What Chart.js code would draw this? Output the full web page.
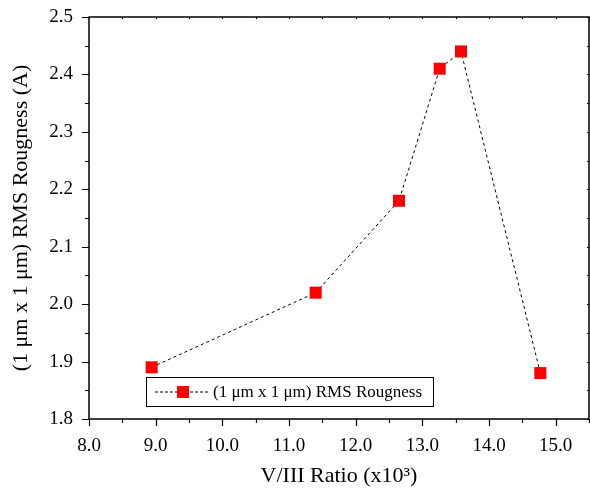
<!DOCTYPE html>
<html>
<head>
<meta charset="utf-8">
<script src="https://cdn.jsdelivr.net/npm/chart.js@4.4.1/dist/chart.umd.min.js"></script>
<style>
  html, body { margin: 0; padding: 0; background: #fff; }
  #wrap { width: 590px; height: 493px; }
</style>
</head>
<body>
<div id="wrap"><canvas id="chart" width="590" height="493"></canvas></div>
<script>
// Дані
const vIIIRatio = [8.94, 11.40, 12.65, 13.26, 13.58, 14.77];
const rmsRoughness = [1.89, 2.02, 2.18, 2.41, 2.44, 1.88];
const seriesLabel = '(1 μm x 1 μm) RMS Rougness';
const xTickLabels = ['8.0', '9.0', '10.0', '11.0', '12.0', '13.0', '14.0', '15.0'];
const yTickLabels = ['1.8', '1.9', '2.0', '2.1', '2.2', '2.3', '2.4', '2.5'];

const serif = "'Liberation Serif', 'Times New Roman', serif";

// Малює рамку, дрібні та великі поділки і легенду
const framePlugin = {
  id: 'frame',
  afterDraw(chart) {
    const { ctx, chartArea: a, scales } = chart;
    const x = scales.x, y = scales.y;
    ctx.save();
    ctx.strokeStyle = '#000';
    ctx.lineWidth = 1.5;
    ctx.strokeRect(a.left, a.top, a.right - a.left, a.bottom - a.top);

    ctx.lineWidth = 1.2;
    ctx.beginPath();
    for (let v = 8; v <= 15.5 + 1e-9; v += 0.5) {
      const px = Math.round(x.getPixelForValue(v)) + 0.5;
      const major = Math.abs(v - Math.round(v)) < 1e-6;
      ctx.moveTo(px, a.bottom);
      ctx.lineTo(px, a.bottom + (major ? 7 : 4));
      ctx.moveTo(px, a.top);
      ctx.lineTo(px, a.top + 2);
    }
    for (let v = 1.8; v <= 2.5 + 1e-9; v += 0.05) {
      const py = Math.round(y.getPixelForValue(v)) + 0.5;
      const major = Math.abs(v * 10 - Math.round(v * 10)) < 1e-6;
      ctx.moveTo(a.left, py);
      ctx.lineTo(a.left - (major ? 7 : 4), py);
      ctx.moveTo(a.right, py);
      ctx.lineTo(a.right - 2, py);
    }
    ctx.stroke();

    // легенда
    const lx = 146, ly = 377, lw = 287, lh = 29;
    ctx.fillStyle = '#fff';
    ctx.fillRect(lx, ly, lw, lh);
    ctx.lineWidth = 1;
    ctx.strokeRect(lx + 0.5, ly + 0.5, lw, lh);
    const cy = ly + lh / 2 + 0.5;
    ctx.setLineDash([3, 2]);
    ctx.beginPath();
    ctx.moveTo(155, cy);
    ctx.lineTo(208, cy);
    ctx.stroke();
    ctx.setLineDash([]);
    ctx.fillStyle = '#ff0000';
    ctx.fillRect(177, cy - 6, 12, 12);
    ctx.fillStyle = '#000';
    ctx.font = '17px ' + serif;
    ctx.textBaseline = 'middle';
    ctx.fillText(chart.data.datasets[0].label, 213, cy + 1);
    ctx.restore();
  }
};

const chart = new Chart(document.getElementById('chart'), {
  type: 'line',
  data: {
    datasets: [{
      label: seriesLabel,
      data: vIIIRatio.map((v, i) => ({ x: v, y: rmsRoughness[i] })),
      borderColor: '#000',
      borderWidth: 1,
      borderDash: [3, 3],
      pointStyle: 'rect',
      pointRadius: 8.5,
      pointBackgroundColor: '#ff0000',
      pointBorderWidth: 0,
      fill: false,
      tension: 0
    }]
  },
  options: {
    responsive: false,
    animation: false,
    layout: { autoPadding: false, padding: { top: 17, right: 1, left: 0, bottom: 0 } },
    plugins: {
      legend: { display: false },
      tooltip: { enabled: false }
    },
    scales: {
      x: {
        type: 'linear',
        min: 8,
        max: 15.5,
        afterFit: s => { s.height = 74; s.paddingRight = 0; s.paddingLeft = 0; },
        afterBuildTicks: s => { s.ticks = xTickLabels.map(t => ({ value: parseFloat(t) })); },
        ticks: {
          callback: (v) => xTickLabels.find(t => parseFloat(t) === v) || '',
          color: '#000',
          font: { family: serif, size: 19 },
          padding: 9,
          maxRotation: 0,
          autoSkip: false
        },
        grid: { color: 'rgba(0,0,0,0)', drawOnChartArea: false, tickLength: 7 },
        border: { display: false },
        title: {
          display: true,
          text: 'V/III Ratio (x10³)',
          color: '#000',
          font: { family: serif, size: 22 },
          padding: { top: 0, bottom: 4 }
        }
      },
      y: {
        type: 'linear',
        min: 1.8,
        max: 2.5,
        afterFit: s => { s.width = 89; s.paddingTop = 0; s.paddingBottom = 0; },
        afterBuildTicks: s => { s.ticks = yTickLabels.map(t => ({ value: parseFloat(t) })); },
        ticks: {
          callback: (v) => yTickLabels.find(t => parseFloat(t) === v) || '',
          color: '#000',
          font: { family: serif, size: 19 },
          padding: 9,
          autoSkip: false
        },
        grid: { color: 'rgba(0,0,0,0)', drawOnChartArea: false, tickLength: 7 },
        border: { display: false },
        title: {
          display: true,
          text: '(1 μm x 1 μm) RMS Rougness (A)',
          color: '#000',
          font: { family: serif, size: 22 },
          padding: { top: 8, bottom: 0 }
        }
      }
    }
  },
  plugins: [framePlugin]
});
</script>
</body>
</html>
